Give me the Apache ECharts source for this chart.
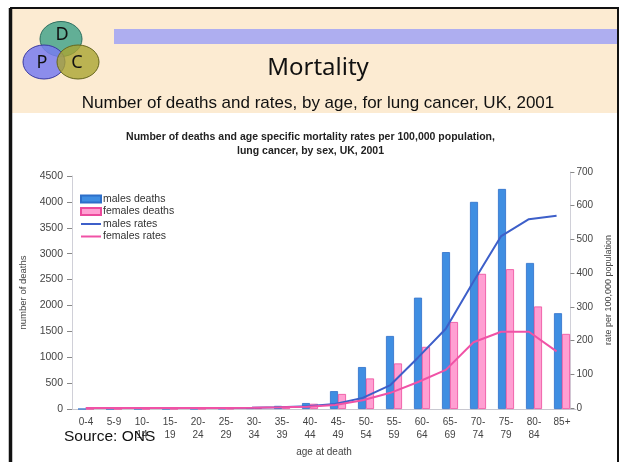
<!DOCTYPE html>
<html>
<head>
<meta charset="utf-8">
<script src="https://cdn.jsdelivr.net/npm/echarts@6/dist/echarts.min.js"></script>
<style>
  html, body { margin: 0; padding: 0; background: #fff; }
  #main { width: 621px; height: 462px; }
</style>
</head>
<body>
<div id="main"></div>
<script>
// age groups (second line of the label sits under the first)
const categories = ['0-4', '5-9', '10-\n14', '15-\n19', '20-\n24', '25-\n29', '30-\n34', '35-\n39', '40-\n44',
  '45-\n49', '50-\n54', '55-\n59', '60-\n64', '65-\n69', '70-\n74', '75-\n79', '80-\n84', '85+']
const maleDeaths = [0, 0, 1, 2, 4, 8, 30, 60, 115, 345, 810, 1410, 2150, 3030, 4000, 4250, 2820, 1850]
const femaleDeaths = [0, 0, 1, 1, 3, 6, 20, 45, 100, 290, 590, 880, 1200, 1680, 2610, 2700, 1980, 1450]
const maleRates = [0, 0, 0, 0, 0.1, 0.3, 1, 2, 5, 12, 30, 68, 150, 235, 375, 510, 560, 570]
const femaleRates = [0, 0, 0, 0, 0.1, 0.3, 1, 2, 4, 9, 23, 45, 77, 113, 195, 226, 226, 168]
const seriesNames = ['males deaths', 'females deaths', 'males rates', 'females rates']

const chart = echarts.init(document.getElementById('main'))
const font = 'Liberation Sans, Arial, sans-serif'
const lineIcon = 'path://M0,0 H20 V2 H0 Z'

let option = {
  animation: false,
  textStyle: { fontFamily: font },
  title: {
    text: 'Number of deaths and age specific mortality rates per 100,000 population,\nlung cancer, by sex, UK, 2001',
    left: 'center',
    top: 125,
    textStyle: { fontSize: 10.5, fontWeight: 'bold', color: '#222', lineHeight: 14, fontFamily: font }
  },
  legend: {
    orient: 'vertical',
    left: 80,
    top: 193,
    padding: 0,
    itemWidth: 20,
    itemHeight: 7,
    itemGap: 0.5,
    textStyle: { fontSize: 10.5, color: '#333', lineHeight: 12, padding: [0, 0, 0, -3] },
    data: [
      { name: seriesNames[0], icon: 'rect' },
      { name: seriesNames[1], icon: 'rect' },
      { name: seriesNames[2], icon: lineIcon },
      { name: seriesNames[3], icon: lineIcon }
    ]
  },
  grid: [
    { left: 72, right: 45, top: 176, bottom: 50 },
    { left: 72, right: 45, top: 172, bottom: 54 }
  ],
  xAxis: [
    {
      type: 'category',
      gridIndex: 0,
      data: categories,
      name: 'age at death',
      nameLocation: 'middle',
      nameGap: 38,
      nameTextStyle: { fontSize: 10, color: '#444' },
      axisLine: { lineStyle: { color: '#c8c8d0' } },
      axisTick: { length: 4, lineStyle: { color: '#aaa' } },
      axisLabel: { fontSize: 10, color: '#444', lineHeight: 13, margin: 7, interval: 0 }
    },
    {
      type: 'category',
      gridIndex: 1,
      data: categories,
      show: false
    }
  ],
  yAxis: [
    {
      type: 'value',
      gridIndex: 0,
      min: 0,
      max: 4500,
      interval: 500,
      name: 'number of deaths',
      nameLocation: 'middle',
      nameGap: 42,
      nameTextStyle: { fontSize: 9.5, color: '#444' },
      axisLine: { show: true, lineStyle: { color: '#d0d0d8' } },
      axisTick: { show: true, length: 5, lineStyle: { color: '#888' } },
      axisLabel: { fontSize: 10.5, color: '#444', margin: 9, formatter: v => String(v) },
      splitLine: { show: false }
    },
    {
      type: 'value',
      gridIndex: 1,
      position: 'right',
      min: 0,
      max: 700,
      interval: 100,
      name: 'rate per 100,000 population',
      nameLocation: 'middle',
      nameRotate: 90,
      nameGap: 28,
      nameTextStyle: { fontSize: 9, color: '#444' },
      axisLine: { show: true, lineStyle: { color: '#d0d0d8' } },
      axisTick: { show: true, length: 4, lineStyle: { color: '#888' } },
      axisLabel: { fontSize: 10, color: '#444', margin: 6, formatter: v => String(v) },
      splitLine: { show: false }
    }
  ],
  series: [
    {
      name: seriesNames[0],
      type: 'bar',
      xAxisIndex: 0,
      yAxisIndex: 0,
      data: maleDeaths,
      barWidth: 8,
      barGap: '0%',
      itemStyle: { color: '#3f8ee2', borderColor: '#2d6fc9', borderWidth: 0.8 }
    },
    {
      name: seriesNames[1],
      type: 'bar',
      xAxisIndex: 0,
      yAxisIndex: 0,
      data: femaleDeaths,
      barWidth: 8,
      barGap: '0%',
      itemStyle: { color: '#ff9fd2', borderColor: '#ec4a9c', borderWidth: 0.8 }
    },
    {
      name: seriesNames[2],
      type: 'line',
      xAxisIndex: 1,
      yAxisIndex: 1,
      data: maleRates,
      showSymbol: false,
      lineStyle: { color: '#3d5fc9', width: 2 },
      itemStyle: { color: '#3d5fc9' },
      z: 5
    },
    {
      name: seriesNames[3],
      type: 'line',
      xAxisIndex: 1,
      yAxisIndex: 1,
      data: femaleRates,
      showSymbol: false,
      lineStyle: { color: '#f052a6', width: 2 },
      itemStyle: { color: '#f052a6' },
      z: 6
    }
  ],
  graphic: [
    // slide header
    { type: 'rect', z: -10, shape: { x: 11, y: 8, width: 607, height: 105 }, style: { fill: '#fcebd2' } },
    { type: 'rect', z: -9, shape: { x: 114, y: 29, width: 504, height: 15 }, style: { fill: '#aeaef0' } },
    // slide frame
    { type: 'line', shape: { x1: 10, y1: 8, x2: 619, y2: 8 }, style: { stroke: '#111', lineWidth: 2 } },
    { type: 'line', shape: { x1: 10.5, y1: 8, x2: 10.5, y2: 462 }, style: { stroke: '#111', lineWidth: 3.5 } },
    { type: 'line', shape: { x1: 618, y1: 8, x2: 618, y2: 462 }, style: { stroke: '#111', lineWidth: 2 } },
    // logo
    { type: 'ellipse', z: -5, shape: { cx: 61, cy: 39, rx: 21, ry: 17.5 },
      style: { fill: 'rgba(70,165,140,0.85)', stroke: '#2f6f60', lineWidth: 1 } },
    { type: 'ellipse', z: -4, shape: { cx: 44, cy: 62, rx: 21, ry: 17 },
      style: { fill: 'rgba(120,125,240,0.85)', stroke: '#3a3aa0', lineWidth: 1 } },
    { type: 'ellipse', z: -3, shape: { cx: 78, cy: 62, rx: 21, ry: 17 },
      style: { fill: 'rgba(170,165,50,0.8)', stroke: '#66661e', lineWidth: 1 } },
    { type: 'text', z: 1, style: { text: 'D', x: 62, y: 35, fontSize: 18, fill: '#111', fontFamily: 'Noto Sans', align: 'center', verticalAlign: 'middle' } },
    { type: 'text', z: 1, style: { text: 'P', x: 42, y: 63, fontSize: 18, fill: '#111', fontFamily: 'Noto Sans', align: 'center', verticalAlign: 'middle' } },
    { type: 'text', z: 1, style: { text: 'C', x: 77, y: 63, fontSize: 18, fill: '#111', fontFamily: 'Noto Sans', align: 'center', verticalAlign: 'middle' } },
    // slide titles
    { type: 'text', z: 1, style: { text: 'Mortality', x: 318, y: 68, fontSize: 24, fill: '#111', fontFamily: 'Noto Sans', align: 'center', verticalAlign: 'middle' } },
    { type: 'text', z: 1, style: { text: 'Number of deaths and rates, by age, for lung cancer, UK, 2001', x: 318, y: 103, fontSize: 17, fill: '#111', fontFamily: font, align: 'center', verticalAlign: 'middle' } },
    { type: 'text', z: 10, style: { text: 'Source: ONS', x: 64, y: 437, fontSize: 15.5, fill: '#111', fontFamily: font, align: 'left', verticalAlign: 'middle' } }
  ]
}
chart.setOption(option)
</script>
</body>
</html>
